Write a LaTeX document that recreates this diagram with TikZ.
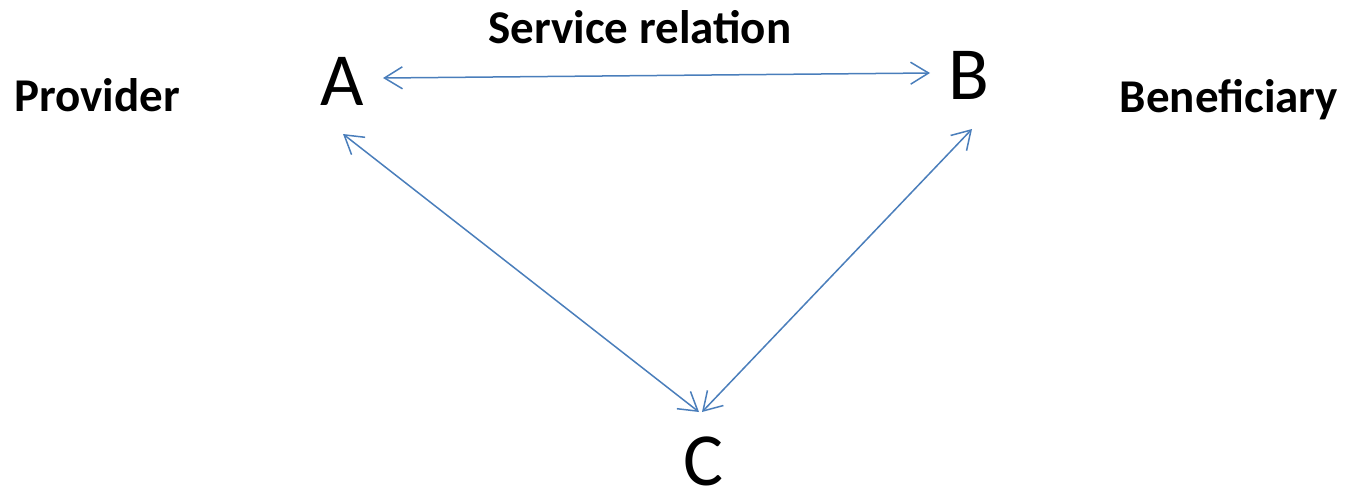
\documentclass[tikz,border=0pt]{standalone}
\usepackage{fontspec}
\setmainfont{Carlito}
\usetikzlibrary{arrows.meta}
\definecolor{linkblue}{HTML}{4A7EBB}
\begin{document}
\begin{tikzpicture}[x=1pt,y=-1pt,
  letter/.style={font=\fontsize{75}{75}\selectfont, anchor=base, inner sep=0pt, text depth=0pt},
  role/.style={font=\fontsize{47}{47}\selectfont\bfseries, anchor=base, inner sep=0pt},
  link/.style={draw=linkblue, line width=1.5pt, {Straight Barb[length=18pt,width=22pt,line width=1.5pt]}-{Straight Barb[length=18pt,width=22pt,line width=1.5pt]}}]
\useasboundingbox (0,0) rectangle (1346,496);
\node[letter] (A) at (342,105) {A};
\node[letter] (B) at (969,99) {B};
\node[letter] (C) at (703,485) {C};
\node[role] (prov) at (97,111) {Provider};
\node[role] (ben) at (1229,112) {Beneficiary};
\node[role] (serv) at (640,43) {Service relation};
\coordinate (ab1) at (383,78);
\coordinate (ab2) at (930,73);
\coordinate (ac1) at (343,134);
\coordinate (ac2) at (699,412);
\coordinate (bc1) at (972,129);
\coordinate (bc2) at (702,412);
\draw[link] (ab1) -- (ab2);
\draw[link] (ac1) -- (ac2);
\draw[link] (bc1) -- (bc2);
\end{tikzpicture}
\end{document}
